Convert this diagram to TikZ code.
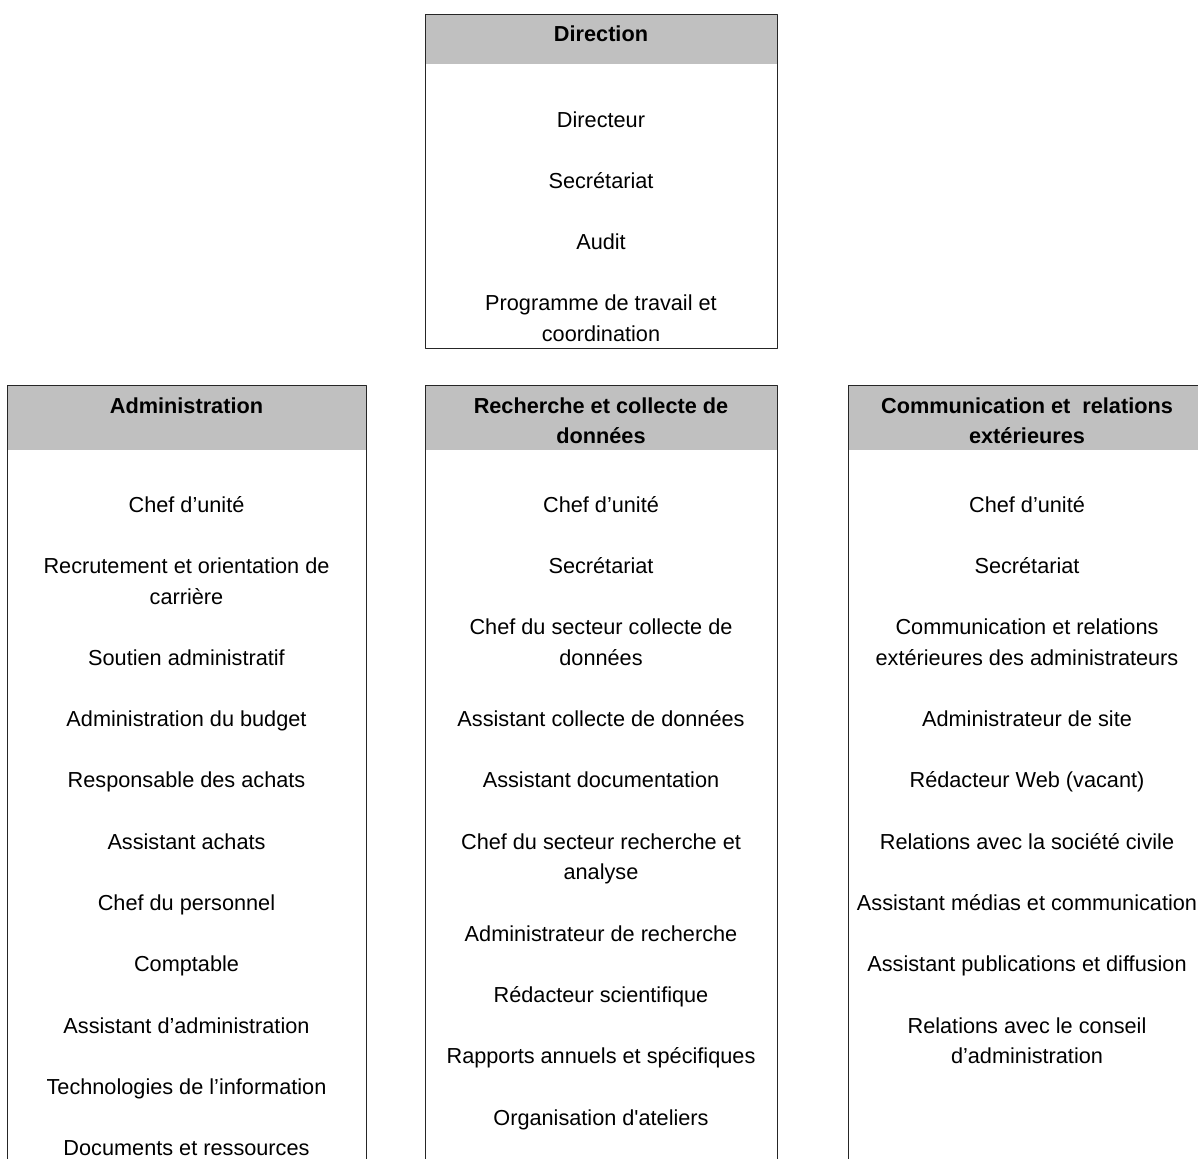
\documentclass[tikz,border=0pt]{standalone}
\usepackage{fontspec}
\setmainfont{Liberation Sans}[Ligatures=TeXOff]
\definecolor{headgray}{RGB}{192,192,192}
\begin{document}
\begin{tikzpicture}[x=0.5pt, y=-0.5pt, font=\fontsize{10.85}{15.33}\selectfont, line join=round,
		box/.style={draw=black!85, line width=0.6pt, anchor=north west, inner sep=0pt},
		band/.style={fill=headgray, anchor=north west, inner sep=0pt},
		head/.style={font=\fontsize{10.85}{15.33}\selectfont\bfseries, align=center, inner sep=0pt, anchor=north,
			execute at end node=\strut},
		item/.style={align=center, inner sep=0pt, anchor=north, execute at end node=\strut}]
	\clip (0,0) rectangle (1198,1158);
	\node[band, minimum width=176pt, minimum height=25pt] (dirband) at (425,14) {};
	\node[band, minimum width=179.5pt, minimum height=32.5pt] (admband) at (7,385) {};
	\node[band, minimum width=176pt, minimum height=32.5pt] (recband) at (425,385) {};
	\node[band, minimum width=179.5pt, minimum height=32.5pt] (comband) at (848,385) {};
	\node[box, minimum width=176pt, minimum height=167pt] (dir) at (425,14) {};
	\node[box, minimum width=179.5pt, minimum height=420pt] (adm) at (7,385) {};
	\node[box, minimum width=176pt, minimum height=420pt] (rec) at (425,385) {};
	\node[box, minimum width=179.5pt, minimum height=420pt] (com) at (848,385) {};
	\node[head] (dirtitle) at (601,19.2) {\strut Direction};
	\node[head] (admtitle) at (186.5,391.2) {\strut Administration};
	\node[head] (rectitle) at (601,391.2) {\strut Recherche et collecte de\\données};
	\node[head] (comtitle) at (1027,391.2) {\strut Communication et~~relations\\extérieures};
	\foreach \k/\t [count=\i] in {0/Directeur, 2/Secrétariat, 4/Audit, 6/{Programme de travail et\\coordination}}
		\node[item] (dir-\i) at (601,{105.2+30.65*\k}) {\strut\t};
	\foreach \k/\t [count=\i] in {0/Chef d’unité, 2/{Recrutement et orientation de\\carrière}, 5/Soutien administratif,
			7/Administration du budget, 9/Responsable des achats, 11/Assistant achats, 13/Chef du personnel,
			15/Comptable, 17/Assistant d’administration, 19/Technologies de l’information, 21/Documents et ressources}
		\node[item] (adm-\i) at (186.5,{490.2+30.65*\k}) {\strut\t};
	\foreach \k/\t [count=\i] in {0/Chef d’unité, 2/Secrétariat, 4/{Chef du secteur collecte de\\données},
			7/Assistant collecte de données, 9/Assistant documentation, 11/{Chef du secteur recherche et\\analyse},
			14/Administrateur de recherche, 16/Rédacteur scientifique, 18/Rapports annuels et spécifiques,
			20/Organisation d'ateliers}
		\node[item] (rec-\i) at (601,{490.2+30.65*\k}) {\strut\t};
	\foreach \k/\t [count=\i] in {0/Chef d’unité, 2/Secrétariat, 4/{Communication et relations\\extérieures des administrateurs},
			7/Administrateur de site, 9/Rédacteur Web (vacant), 11/Relations avec la société civile,
			13/Assistant médias et communication, 15/Assistant publications et diffusion,
			17/{Relations avec le conseil\\d’administration}}
		\node[item] (com-\i) at (1027,{490.2+30.65*\k}) {\strut\t};
\end{tikzpicture}
\end{document}
